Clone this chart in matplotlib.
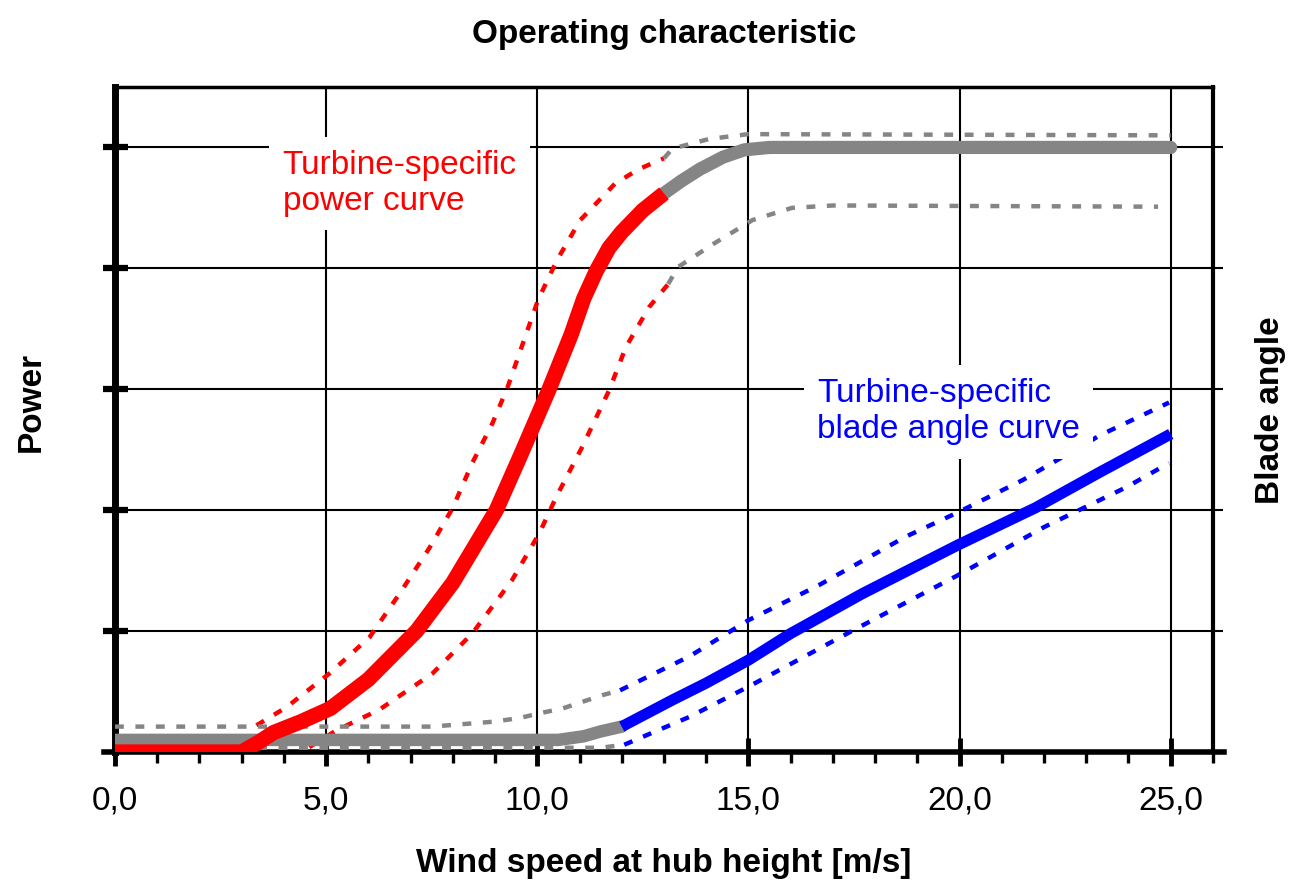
import matplotlib.pyplot as plt
import numpy as np

plt.rcParams['font.family'] = ['Liberation Sans', 'DejaVu Sans']

# power curve (red, thick) and its continuation in grey up to rated power
power_x = [0, 1, 2, 3.0, 3.4, 3.75, 4.4, 5.1, 6.0, 7.14, 8.0, 9.03, 9.6, 10.28, 10.8, 11.1, 11.4, 11.7, 12.0, 12.5, 13.0]
power_y = [0, 0, 0, 0, 0.08, 0.16, 0.25, 0.36, 0.6, 1.0, 1.4, 2.0, 2.45, 3.0, 3.45, 3.75, 3.98, 4.17, 4.3, 4.48, 4.62]
rated_x = [13.0, 13.4, 13.85, 14.4, 14.9, 15.5, 16.5, 25.0]
rated_y = [4.62, 4.72, 4.82, 4.92, 4.98, 5.0, 5.0, 5.0]

# blade angle (grey flat part, then blue)
angle_flat_x = [0, 10.5, 11.1, 11.5, 12.0]
angle_flat_y = [0.1, 0.1, 0.13, 0.17, 0.21]
angle_x = [12.0, 13.2, 14.0, 15.0, 16.0, 17.7, 19.95, 21.8, 23.3, 25.0]
angle_y = [0.21, 0.43, 0.57, 0.76, 0.98, 1.31, 1.71, 2.02, 2.31, 2.63]

# tolerance bands (dotted)
pw_hi_x = [3.35, 4.06, 5.08, 6.03, 6.74, 7.45, 8.0, 8.46, 8.94, 9.29, 10.02, 10.47, 11.02, 11.84, 12.4, 13.0]
pw_hi_y = [0.22, 0.37, 0.65, 0.95, 1.31, 1.69, 2.02, 2.39, 2.72, 3.01, 3.74, 4.07, 4.4, 4.7, 4.82, 4.91]
rated_hi_x = [13.0, 13.2, 14.07, 15.0, 25.0]
rated_hi_y = [4.91, 4.99, 5.07, 5.11, 5.1]

pw_lo_x = [4.6, 5.25, 6.26, 7.52, 8.46, 9.4, 10.05, 10.45, 11.06, 11.7, 12.1, 12.65, 13.1]
pw_lo_y = [0.04, 0.18, 0.35, 0.65, 0.98, 1.42, 1.81, 2.11, 2.52, 2.99, 3.35, 3.68, 3.87]
rated_lo_x = [13.1, 13.33, 14.16, 15.1, 16.03, 17.0, 24.7]
rated_lo_y = [3.87, 4.01, 4.2, 4.4, 4.5, 4.52, 4.51]

flat_hi_x = [0, 7.5, 8.94, 9.57, 10.05, 10.6, 11.54, 11.96]
flat_hi_y = [0.21, 0.21, 0.25, 0.28, 0.32, 0.36, 0.47, 0.51]
ang_hi_x = [11.96, 13.6, 15.0, 16.67, 18.72, 19.95, 21.5, 23.33, 24.96]
ang_hi_y = [0.51, 0.79, 1.09, 1.38, 1.78, 1.98, 2.25, 2.62, 2.89]

flat_lo_x = [0, 11.5, 12.06]
flat_lo_y = [0.035, 0.035, 0.06]
ang_lo_x = [12.06, 13.6, 15.0, 17.5, 19.95, 22.0, 23.95, 24.96]
ang_lo_y = [0.06, 0.29, 0.54, 1.01, 1.46, 1.86, 2.19, 2.39]

xticks = [0, 5, 10, 15, 20, 25]
xtick_labels = ["0,0", "5,0", "10,0", "15,0", "20,0", "25,0"]
yticks = [1, 2, 3, 4, 5]

RED = "#ff0000"
BLUE = "#0000ff"
GREY = "#858585"

fig = plt.figure(figsize=(12.89, 8.93), dpi=100)
ax = fig.add_axes([0.0892, 0.1579, 0.8518, 0.7447])

dot = dict(lw=3.2, linestyle=(0, (2.0, 2.6)), zorder=3)
ax.plot(pw_hi_x, pw_hi_y, color=RED, **dot)
ax.plot(pw_lo_x, pw_lo_y, color=RED, **dot)
ax.plot(rated_hi_x, rated_hi_y, color=GREY, **dot)
ax.plot(rated_lo_x, rated_lo_y, color=GREY, **dot)
ax.plot(flat_hi_x, flat_hi_y, color=GREY, **dot)
ax.plot(flat_lo_x, flat_lo_y, color=GREY, **dot)
ax.plot(ang_hi_x, ang_hi_y, color=BLUE, **dot)
ax.plot(ang_lo_x, ang_lo_y, color=BLUE, **dot)

ax.plot(angle_flat_x, angle_flat_y, color=GREY, lw=9, solid_capstyle='round',
        solid_joinstyle='round', zorder=4)
ax.plot(angle_x, angle_y, color=BLUE, lw=8, solid_capstyle='butt',
        solid_joinstyle='round', zorder=4)
ax.plot(rated_x, rated_y, color=GREY, lw=9.5, solid_capstyle='round',
        solid_joinstyle='round', zorder=4)
ax.plot(power_x, power_y, color=RED, lw=11, solid_capstyle='butt',
        solid_joinstyle='round', zorder=4)

ax.set_xlim(0, 26)
ax.set_ylim(0, 5.5)
ax.set_xticks(xticks)
ax.set_xticklabels(xtick_labels)
ax.set_xticks(np.arange(0, 27, 1), minor=True)
ax.set_yticks(yticks)
ax.set_yticklabels([])
ax.tick_params(axis='x', which='major', direction='inout', length=20, width=3.5,
               labelsize=24, pad=14, color='black')
ax.tick_params(axis='x', which='minor', direction='out', length=8, width=2.4)
ax.tick_params(axis='y', which='major', direction='inout', length=18, width=4.5, left=True)
ax.grid(True, which='major', color='black', lw=1.5, zorder=1)
ax.set_axisbelow(True)

ax.spines['left'].set_linewidth(5)
ax.spines['bottom'].set_linewidth(4)
ax.spines['top'].set_linewidth(2.5)
ax.spines['right'].set_linewidth(3)
ax.spines['bottom'].set_bounds(-0.25, 26.25)

# right axis for the blade angle
ax2 = ax.twinx()
ax2.set_ylim(ax.get_ylim())
ax2.set_yticks(yticks)
ax2.set_yticklabels([])
ax2.tick_params(axis='y', direction='out', length=7, width=1.5)
for s in ax2.spines.values():
    s.set_visible(False)

ax.set_title("Operating characteristic", fontsize=24, fontweight='bold', pad=32)
ax.set_xlabel("Wind speed at hub height [m/s]", fontsize=24, fontweight='bold')
ax.xaxis.set_label_coords(0.5, -0.145)
ax.set_ylabel("Power", fontsize=24, fontweight='bold')
ax.yaxis.set_label_coords(-0.062, 0.526)
ax2.set_ylabel("Blade angle", fontsize=24, fontweight='bold')
ax2.yaxis.set_label_coords(1.038, 0.514)

box = dict(boxstyle='square,pad=0.4', fc='white', ec='none')
ax.text(3.97, 4.98, "Turbine-specific\npower curve", color=RED, fontsize=24,
        ha='left', va='top', bbox=box, zorder=6)
ax.text(16.62, 3.09, "Turbine-specific\nblade angle curve", color=BLUE, fontsize=24,
        ha='left', va='top', bbox=box, zorder=6)

plt.savefig("out.png", dpi=100)
